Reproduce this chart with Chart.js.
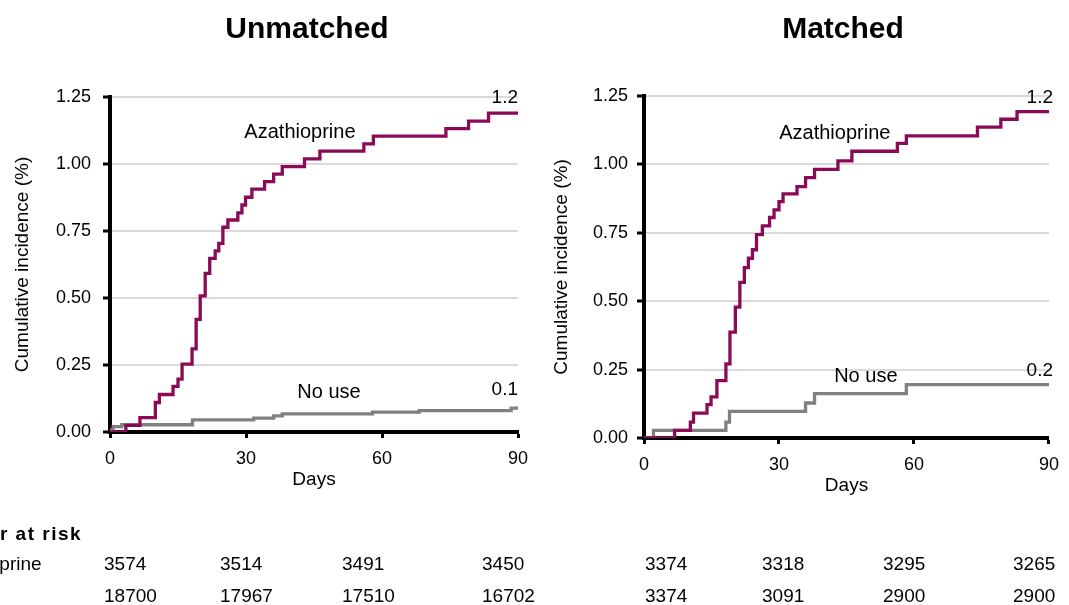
<!DOCTYPE html>
<html><head><meta charset="utf-8">
<script src="https://cdn.jsdelivr.net/npm/chart.js@4.4.1/dist/chart.umd.min.js"></script>
<style>
html,body{margin:0;padding:0;background:#fff;overflow:hidden}
#wrap{position:relative;width:1069px;height:605px;background:#fff}
canvas{position:absolute;top:0}
#c1{left:0}
#c2{left:540px}
</style></head><body>
<div id="wrap">
<canvas id="c1" width="540" height="605"></canvas>
<canvas id="c2" width="529" height="605"></canvas>
</div>
<script>
// ---------------- DATA ----------------
const panelTitles = ['Unmatched', 'Matched'];
const seriesNames = ['Azathioprine', 'No use'];
const xTickValues = [0, 30, 60, 90];
const yTickValues = [0, 0.25, 0.5, 0.75, 1.0, 1.25];
const xAxisTitle = 'Days';
const yAxisTitle = 'Cumulative incidence (%)';
const riskHeader = 'Number at risk';

// Unmatched cohort, cumulative incidence (%) by day
const unmatchedAzaDays = [0, 3.5, 6.6, 10.0, 10.9, 13.9, 15.0, 15.9, 18.1, 19.0, 19.9, 21.0, 22.0, 23.2, 24.0, 24.9, 26.0, 28.2, 29.1, 29.9, 31.3, 34.1, 36.1, 38.0, 42.9, 46.3, 56.0, 58.1, 74.1, 79.1, 83.5, 90];
const unmatchedAzaCI   = [0, 0.025, 0.054, 0.11, 0.14, 0.17, 0.197, 0.253, 0.31, 0.42, 0.508, 0.592, 0.648, 0.676, 0.704, 0.764, 0.791, 0.818, 0.847, 0.876, 0.906, 0.934, 0.962, 0.99, 1.019, 1.048, 1.075, 1.104, 1.132, 1.16, 1.19, 1.19];
const unmatchedNoUseDays = [0, 0.7, 2.6, 18.2, 31.7, 36.1, 38.0, 57.9, 68.2, 88.5, 90];
const unmatchedNoUseCI   = [0.008, 0.02, 0.027, 0.045, 0.052, 0.06, 0.068, 0.074, 0.08, 0.089, 0.089];

// Matched cohort
const matchedAzaDays = [0, 6.8, 10.3, 11.0, 14.0, 14.9, 16.2, 18.2, 19.1, 20.3, 21.3, 22.3, 23.2, 24.1, 25.0, 26.3, 27.9, 28.9, 30.0, 30.9, 34.0, 35.9, 37.9, 43.1, 46.2, 56.3, 58.3, 74.1, 79.3, 82.9, 90];
const matchedAzaCI   = [0, 0.028, 0.058, 0.091, 0.122, 0.15, 0.21, 0.271, 0.387, 0.478, 0.569, 0.623, 0.657, 0.688, 0.743, 0.775, 0.806, 0.834, 0.864, 0.892, 0.919, 0.952, 0.982, 1.013, 1.048, 1.077, 1.104, 1.136, 1.165, 1.193, 1.193];
const matchedNoUseDays = [0, 2.1, 18.2, 19.0, 35.9, 37.9, 58.3, 90];
const matchedNoUseCI   = [0, 0.028, 0.058, 0.097, 0.128, 0.162, 0.195, 0.195];

// Number at risk at days 0, 30, 60, 90
const riskUnmatchedAza   = [3574, 3514, 3491, 3450];
const riskUnmatchedNoUse = [18700, 17967, 17510, 16702];
const riskMatchedAza     = [3374, 3318, 3295, 3265];
const riskMatchedNoUse   = [3374, 3091, 2900, 2900];

// ---------------- STYLE / LAYOUT ----------------
const FONT = "'Liberation Sans', Arial, Helvetica, sans-serif";
const COLORS = ['#8a0a55', '#808080'];
Chart.defaults.font.family = FONT;
Chart.defaults.color = '#000';

function pts(days, vals) { return days.map((d, i) => ({x: d, y: vals[i]})); }

const panelPlugin = {
  id: 'panel',
  afterDraw(chart, args, o) {
    const {ctx, chartArea: ca, scales: {x, y}} = chart;
    ctx.save();
    ctx.fillStyle = '#000';
    ctx.textBaseline = 'middle';
    // panel title
    ctx.font = 'bold 30px ' + FONT;
    ctx.textAlign = 'center';
    ctx.fillText(o.title, o.titleX, o.titleY);
    // series name labels
    ctx.font = '20px ' + FONT;
    o.nameLabels.forEach((l, i) => {
      ctx.textAlign = 'center';
      ctx.fillText(seriesNames[i], x.getPixelForValue(l.day), y.getPixelForValue(l.value));
    });
    // end-of-curve value labels
    ctx.font = '19px ' + FONT;
    ctx.textAlign = 'right';
    chart.data.datasets.forEach((ds, i) => {
      const last = ds.data[ds.data.length - 1];
      ctx.fillText(last.y.toFixed(1), ca.right + o.endDx, y.getPixelForValue(last.y) - o.endDy[i]);
    });
    // number at risk table
    const t = o.risk;
    ctx.textAlign = 'left';
    if (t.showLabels) {
      ctx.font = 'bold 19px ' + FONT;
      if ('letterSpacing' in ctx) ctx.letterSpacing = '1.5px';
      ctx.fillText(riskHeader, t.headerX, t.headerY);
      if ('letterSpacing' in ctx) ctx.letterSpacing = '0px';
      ctx.font = '19px ' + FONT;
      seriesNames.forEach((n, r) => ctx.fillText(n, t.labelX, t.rowY[r]));
    }
    ctx.font = '19px ' + FONT;
    t.rows.forEach((row, r) => {
      row.forEach((v, c) => ctx.fillText(String(v), t.colX[c], t.rowY[r]));
    });
    ctx.restore();
  }
};

function makeChart(id, cfg) {
  return new Chart(document.getElementById(id), {
    type: 'line',
    data: {
      datasets: [
        {label: seriesNames[0], data: pts(cfg.azaDays, cfg.azaCI), borderColor: COLORS[0]},
        {label: seriesNames[1], data: pts(cfg.noDays, cfg.noCI), borderColor: COLORS[1]}
      ]
    },
    options: {
      responsive: false,
      animation: false,
      devicePixelRatio: 1,
      datasets: {line: {stepped: 'before', borderWidth: 3.3, pointRadius: 0, tension: 0, fill: false, borderCapStyle: 'butt', borderJoinStyle: 'miter'}},
      layout: {padding: {top: cfg.padTop, bottom: cfg.padBottom, left: 0, right: cfg.padRight}},
      plugins: {
        legend: {display: false},
        tooltip: {enabled: false},
        title: {display: false},
        panel: cfg.panel
      },
      scales: {
        x: {
          type: 'linear', min: 0, max: 90,
          afterBuildTicks: s => { s.ticks = xTickValues.map(v => ({value: v})); },
          afterFit: s => { s.height = 59; },
          border: {display: true, color: '#000', width: 4},
          grid: {display: true, drawOnChartArea: false, drawTicks: true, tickLength: 6, tickColor: '#000', tickWidth: 3},
          ticks: {color: '#000', font: {size: 18}, padding: 10, maxRotation: 0, autoSkip: false},
          title: {display: true, text: xAxisTitle, color: '#000', font: {size: 19}, padding: {top: 0, bottom: 0}}
        },
        y: {
          type: 'linear', min: 0, max: 1.25,
          afterBuildTicks: s => { s.ticks = yTickValues.map(v => ({value: v})); },
          afterFit: s => { s.width = cfg.yWidth; },
          border: {display: true, color: '#000', width: 4},
          grid: {display: true, color: '#dadada', lineWidth: 2, drawTicks: true, tickLength: 7, tickColor: '#000', tickWidth: 3},
          ticks: {color: '#000', font: {size: 18}, padding: cfg.yTickPad, callback: v => Number(v).toFixed(2)},
          title: {display: true, text: yAxisTitle, color: '#000', font: {size: 19}, padding: {top: cfg.yTitlePad, bottom: 0}}
        }
      }
    },
    plugins: [panelPlugin]
  });
}

makeChart('c1', {
  azaDays: unmatchedAzaDays, azaCI: unmatchedAzaCI, noDays: unmatchedNoUseDays, noCI: unmatchedNoUseCI,
  padTop: 97, padBottom: 114, padRight: 22, yWidth: 110, yTickPad: 12, yTitlePad: 11,
  panel: {
    title: panelTitles[0], titleX: 307, titleY: 30,
    nameLabels: [{day: 41.9, value: 1.116}, {day: 48.3, value: 0.146}],
    endDx: 0, endDy: [15, 18],
    risk: {showLabels: true, headerX: -72, labelX: -64, headerY: 535, rowY: [565, 597],
           colX: [104, 220, 342, 482], rows: [riskUnmatchedAza, riskUnmatchedNoUse]}
  }
});

makeChart('c2', {
  azaDays: matchedAzaDays, azaCI: matchedAzaCI, noDays: matchedNoUseDays, noCI: matchedNoUseCI,
  padTop: 96, padBottom: 108, padRight: 17, yWidth: 104, yTickPad: 9, yTitlePad: 10,
  panel: {
    title: panelTitles[1], titleX: 303, titleY: 30,
    nameLabels: [{day: 42.4, value: 1.114}, {day: 49.3, value: 0.226}],
    endDx: 4, endDy: [14, 14],
    risk: {showLabels: false, headerX: 0, labelX: 0, headerY: 535, rowY: [565, 597],
           colX: [105, 222, 343, 473], rows: [riskMatchedAza, riskMatchedNoUse]}
  }
});
</script>
</body></html>
